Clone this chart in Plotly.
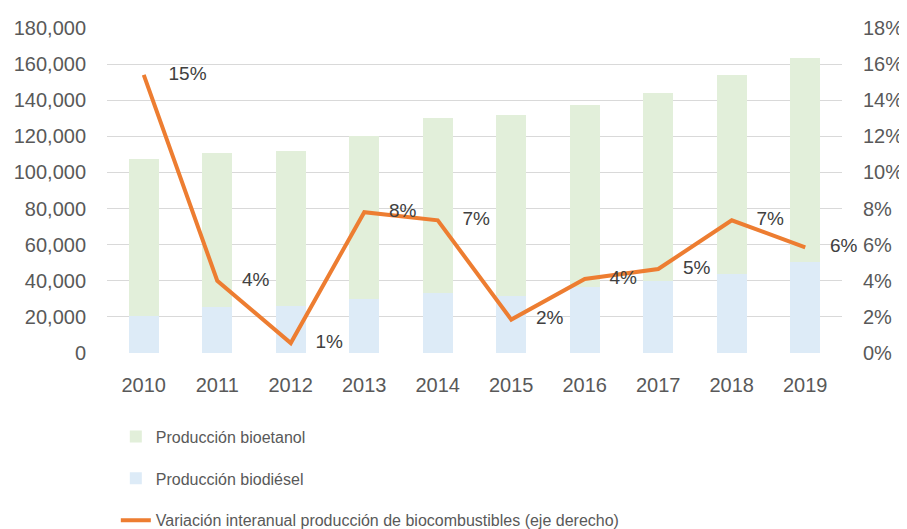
import plotly.graph_objects as go

years = ["2010", "2011", "2012", "2013", "2014", "2015", "2016", "2017", "2018", "2019"]
biodiesel = [20500, 25300, 26200, 29900, 33400, 31700, 36400, 40000, 43700, 50400]
bioetanol = [86800, 85600, 85700, 90300, 96600, 99900, 100800, 103800, 110300, 113000]
variacion = [0.154, 0.040, 0.0055, 0.078, 0.0735, 0.0185, 0.041, 0.0465, 0.0735, 0.0585]
var_labels = ["15%", "4%", "1%", "8%", "7%", "2%", "4%", "5%", "7%", "6%"]

TXT = "#595959"
FONT = "Liberation Sans, Arial, sans-serif"

fig = go.Figure()
fig.add_trace(go.Bar(x=years, y=biodiesel, name="Producción biodiésel",
                     marker=dict(color="#DDEBF7", line=dict(width=0)),
                     legendrank=2, legendgroup="b"))
fig.add_trace(go.Bar(x=years, y=bioetanol, name="Producción bioetanol",
                     marker=dict(color="#E2EFDA", line=dict(width=0)),
                     legendrank=1, legendgroup="a"))
fig.add_trace(go.Scatter(x=years, y=variacion, yaxis="y2", mode="lines+markers+text",
                         name="Variación interanual producción de biocombustibles (eje derecho)",
                         line=dict(color="#ED7D31", width=4),
                         marker=dict(size=38, color="rgba(0,0,0,0)"),
                         text=var_labels, textposition="middle right",
                         textfont=dict(size=19, color="#404040", family=FONT),
                         cliponaxis=False,
                         legendrank=3, legendgroup="c"))

fig.update_layout(
    width=899, height=521,
    margin=dict(l=99, r=65, t=20, b=176, autoexpand=False),
    paper_bgcolor="white", plot_bgcolor="white",
    barmode="stack", bargap=0.59,
    font=dict(family=FONT, size=20, color=TXT),
    xaxis=dict(range=[-0.5, len(years) - 0.5], showgrid=False, showline=False,
               ticks="", ticklabelstandoff=18,
               automargin=False, tickfont=dict(size=20, color=TXT)),
    yaxis=dict(range=[0, 180000], tick0=0, dtick=20000, tickformat=",d",
               showgrid=True, gridcolor="#D9D9D9", gridwidth=1, zeroline=False,
               showline=False, ticks="", ticklabelstandoff=20, automargin=False,
               tickfont=dict(size=20, color=TXT)),
    yaxis2=dict(range=[0, 0.18], tick0=0, dtick=0.02, tickformat=".0%",
                overlaying="y", side="right", showgrid=False, zeroline=False,
                showline=False, ticks="", ticklabelstandoff=20, automargin=False,
                tickfont=dict(size=20, color=TXT)),
    legend=dict(orientation="v", x=0.012, xanchor="left", y=-0.205, yanchor="top",
                traceorder="grouped", tracegroupgap=18,
                font=dict(family=FONT, size=16, color=TXT),
                itemwidth=30, bgcolor="rgba(0,0,0,0)"),
    showlegend=True,
)

fig.write_html("out.html")
